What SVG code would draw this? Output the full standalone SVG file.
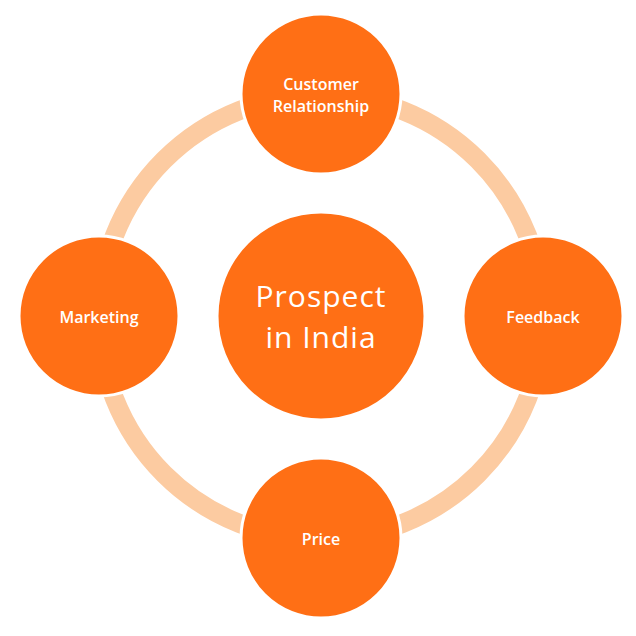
<svg xmlns="http://www.w3.org/2000/svg" width="636" height="636" viewBox="0 0 636 636">
<style>
.node{fill:#FF6F15;stroke:#FFFFFF;stroke-width:3}
.lbl{font-family:"Open Sans","Noto Sans","Liberation Sans",sans-serif;fill:#FFFFFF;text-anchor:middle;font-size:16px;font-weight:600}
.big{font-size:30px;font-weight:400;letter-spacing:1px}
.ring{fill:none;stroke:#FCCBA1;stroke-width:19}
</style>
<rect width="636" height="636" fill="#FFFFFF"/>
<g id="connectors">
<circle class="ring" cx="321" cy="317" r="222"/>
</g>
<g id="center">
<circle class="node" cx="321" cy="316" r="104"/>
<text class="lbl big" x="321" y="307">Prospect</text>
<text class="lbl big" x="321" y="348">in India</text>
</g>
<g id="customer">
<circle class="node" cx="321" cy="94" r="80"/>
<text class="lbl" x="321" y="90">Customer</text>
<text class="lbl" x="321" y="112">Relationship</text>
</g>
<g id="marketing">
<circle class="node" cx="99" cy="316" r="80"/>
<text class="lbl" x="99" y="323">Marketing</text>
</g>
<g id="feedback">
<circle class="node" cx="543" cy="316" r="80"/>
<text class="lbl" x="543" y="323">Feedback</text>
</g>
<g id="price">
<circle class="node" cx="321" cy="538" r="80"/>
<text class="lbl" x="321" y="545">Price</text>
</g>
</svg>
